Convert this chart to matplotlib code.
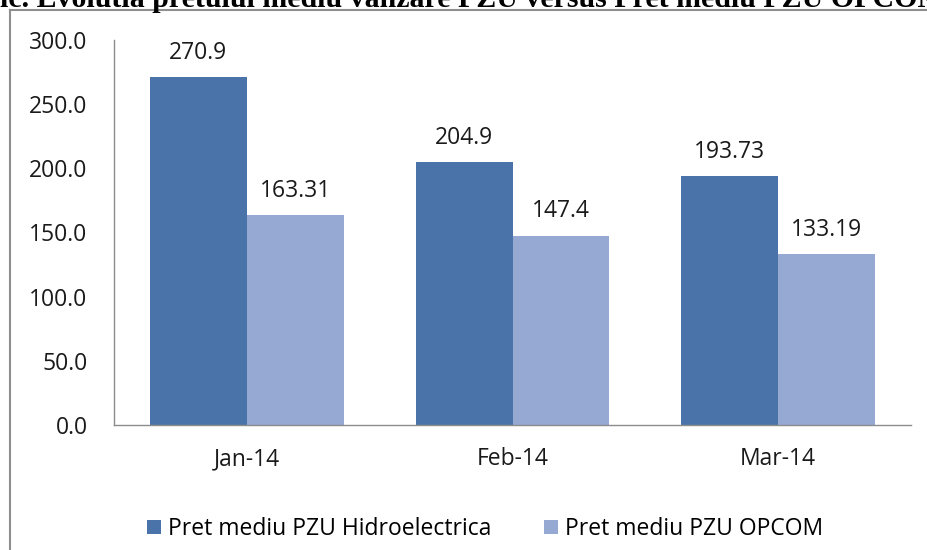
import matplotlib
matplotlib.use("Agg")
import matplotlib.pyplot as plt
import numpy as np

categories = ["Jan-14", "Feb-14", "Mar-14"]
hidro = [270.9, 204.9, 193.73]
opcom = [163.31, 147.4, 133.19]
hidro_labels = ["270.9", "204.9", "193.73"]
opcom_labels = ["163.31", "147.4", "133.19"]
series_names = ["Pret mediu PZU Hidroelectrica", "Pret mediu PZU OPCOM"]
yticks = [0, 50, 100, 150, 200, 250, 300]

W, H = 927, 550
fig = plt.figure(figsize=(W / 100, H / 100), dpi=100)
fig.patch.set_facecolor("white")

font = "Open Sans"
plt.rcParams["font.family"] = [font, "DejaVu Sans"]
fs = 16.5

# Axes placement in pixels
left, right, top, bottom = 114, 911, 40, 425
ax = fig.add_axes([left / W, 1 - bottom / H, (right - left) / W, (bottom - top) / H])

x = np.arange(len(categories))
bw = 0.365
dark = "#4A74A9"
light = "#96A9D3"
b1 = ax.bar(x - bw / 2, hidro, bw, color=dark, label=series_names[0])
b2 = ax.bar(x + bw / 2, opcom, bw, color=light, label=series_names[1])

for xi, v, t in zip(x - bw / 2, hidro, hidro_labels):
    ax.annotate(t, (xi, v), xytext=(0, 9), textcoords="offset points",
                ha="center", va="bottom", fontsize=fs, color="#1a1a1a")
for xi, v, t in zip(x + bw / 2, opcom, opcom_labels):
    ax.annotate(t, (xi, v), xytext=(0, 9), textcoords="offset points",
                ha="center", va="bottom", fontsize=fs, color="#1a1a1a")

ax.set_xlim(-0.5, 2.5)
ax.set_ylim(0, 300)
ax.set_yticks(yticks)
ax.set_yticklabels([f"{v:.1f}" for v in yticks], fontsize=fs, color="#1a1a1a")
ax.set_xticks(x)
ax.set_xticklabels(categories, fontsize=fs, color="#1a1a1a")
ax.tick_params(axis="x", length=0, pad=16)
ax.tick_params(axis="y", length=0, pad=19)
for s in ["top", "right"]:
    ax.spines[s].set_visible(False)
ax.spines["left"].set_color("#8c8c8c")
ax.spines["bottom"].set_color("#8c8c8c")
ax.spines["left"].set_linewidth(1.0)
ax.spines["bottom"].set_linewidth(1.0)

# Legend
leg = fig.legend(handles=[b1, b2], labels=series_names, loc="center",
                 bbox_to_anchor=(485 / W, 1 - 529 / H), ncol=2, frameon=False,
                 fontsize=fs, handlelength=0.6, handleheight=0.6,
                 handletextpad=0.3, columnspacing=2.3)

# Outer chart frame (partially visible)
fig.add_artist(plt.Line2D([10 / W, 10 / W], [0, 1 - 10 / H], color="#8f8f8f", lw=1.5))
fig.add_artist(plt.Line2D([10 / W, 1], [1 - 10 / H, 1 - 10 / H], color="#8f8f8f", lw=1.5))

# Cropped title at top
fig.text(0.0, 1 - 7 / H, "ic. Evolutia pretului mediu vanzare PZU versus Pret mediu PZU OPCOM",
         fontsize=21.5, fontweight="bold", family=["Liberation Serif", "DejaVu Serif"],
         ha="left", va="baseline", color="black")

fig.savefig("out.png", dpi=100, facecolor="white")
